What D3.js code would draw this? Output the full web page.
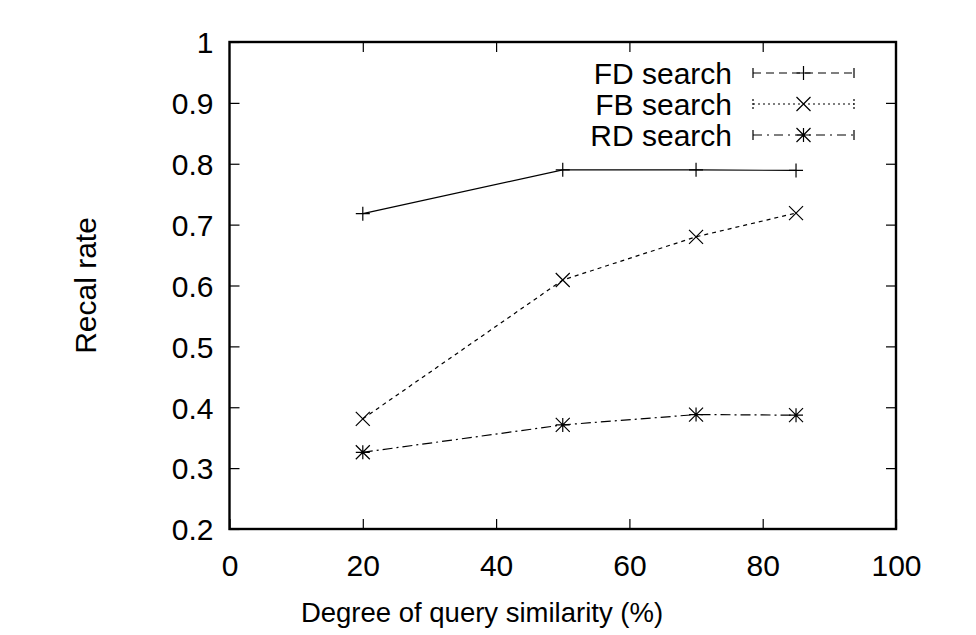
<!DOCTYPE html>
<html>
<head>
<meta charset="utf-8">
<script src="https://cdn.jsdelivr.net/npm/d3@7"></script>
<style>
  html, body { margin: 0; padding: 0; background: #fff; }
  text { font-family: "Liberation Sans", Arial, sans-serif; fill: #000; }
</style>
</head>
<body>
<div id="chart"></div>
<script>
// data
var similarity = [20, 50, 70, 85];
var fdSearch = [0.718, 0.79, 0.79, 0.789];
var fbSearch = [0.381, 0.609, 0.68, 0.719];
var rdSearch = [0.326, 0.371, 0.388, 0.387];
var seriesNames = ["FD search", "FB search", "RD search"];
var xTicks = [0, 20, 40, 60, 80, 100];
var yTicks = [0.2, 0.3, 0.4, 0.5, 0.6, 0.7, 0.8, 0.9, 1];

var width = 976, height = 635;
var margin = { top: 42, right: 80, bottom: 106, left: 229.5 };
var fontSize = 30;
var tickLen = 10;

var svg = d3.select("#chart").append("svg")
    .attr("width", width)
    .attr("height", height);

var x = d3.scaleLinear().domain([0, 100]).range([margin.left, width - margin.right]);
var y = d3.scaleLinear().domain([0.2, 1]).range([height - margin.bottom, margin.top]);

var g = svg.append("g");

// ticks on all four sides, pointing inward (gnuplot mirror)
var yAxisL = d3.axisLeft(y).tickValues(yTicks).tickSizeInner(-tickLen).tickSizeOuter(0)
    .tickPadding(16).tickFormat(function(d) { return d === 1 ? "1" : d3.format(".1f")(d); });
var yAxisR = d3.axisRight(y).tickValues(yTicks.slice(1, -1)).tickSizeInner(-tickLen).tickSizeOuter(0).tickFormat("");
var xAxisB = d3.axisBottom(x).tickValues(xTicks).tickSizeInner(-tickLen).tickSizeOuter(0)
    .tickPadding(26).tickFormat(d3.format("d"));
var xAxisT = d3.axisTop(x).tickValues(xTicks.slice(1, -1)).tickSizeInner(-tickLen).tickSizeOuter(0).tickFormat("");

function styleAxis(sel) {
    sel.select(".domain").remove();
    sel.selectAll("line").attr("stroke", "#000").attr("stroke-width", 1.2);
    sel.selectAll("text").style("font-size", fontSize + "px")
        .style("font-family", "'Liberation Sans', Arial, sans-serif").attr("fill", "#000");
}

g.append("g").attr("transform", "translate(" + margin.left + ",0)").call(yAxisL).call(styleAxis)
    .selectAll("text").attr("dy", "0.36em");
g.append("g").attr("transform", "translate(" + (width - margin.right) + ",0)").call(yAxisR).call(styleAxis);
g.append("g").attr("transform", "translate(0," + (height - margin.bottom) + ")").call(xAxisB).call(styleAxis)
    .selectAll("text").attr("dy", "0.71em");
g.append("g").attr("transform", "translate(0," + margin.top + ")").call(xAxisT).call(styleAxis);

// frame
g.append("rect")
    .attr("x", x(0)).attr("y", y(1))
    .attr("width", x(100) - x(0)).attr("height", y(0.2) - y(1))
    .attr("fill", "none").attr("stroke", "#000").attr("stroke-width", 2.4);

// axis titles (x title is centred on the canvas, as gnuplot does)
svg.append("text")
    .attr("x", 482).attr("y", 622)
    .attr("text-anchor", "middle").style("font-size", "27.5px")
    .text("Degree of query similarity (%)");
svg.append("text")
    .attr("transform", "translate(96," + ((y(0.2) + y(1)) / 2) + ") rotate(-90)")
    .attr("text-anchor", "middle").style("font-size", "30px")
    .text("Recal rate");

// markers
var ms = 7;
function plusPath(cx, cy) {
    return "M" + (cx - ms) + "," + cy + "H" + (cx + ms) + "M" + cx + "," + (cy - ms) + "V" + (cy + ms);
}
function crossPath(cx, cy) {
    return "M" + (cx - ms) + "," + (cy - ms) + "L" + (cx + ms) + "," + (cy + ms) +
        "M" + (cx - ms) + "," + (cy + ms) + "L" + (cx + ms) + "," + (cy - ms);
}
function starPath(cx, cy) { return plusPath(cx, cy) + crossPath(cx, cy); }

var series = [
    { name: seriesNames[0], values: fdSearch, plotDash: null, keyDash: "8,5", marker: plusPath },
    { name: seriesNames[1], values: fbSearch, plotDash: "4,4", keyDash: "2,3", marker: crossPath },
    { name: seriesNames[2], values: rdSearch, plotDash: "10,4,2,4", keyDash: "9,5,2,5", marker: starPath }
];

var line = d3.line().x(function(d) { return x(d[0]); }).y(function(d) { return y(d[1]); });

series.forEach(function(s) {
    var pts = similarity.map(function(v, i) { return [v, s.values[i]]; });
    g.append("path")
        .attr("d", line(pts))
        .attr("fill", "none").attr("stroke", "#000").attr("stroke-width", 1.2)
        .attr("stroke-dasharray", s.plotDash);
    g.append("path")
        .attr("d", pts.map(function(p) { return s.marker(x(p[0]), y(p[1])); }).join(""))
        .attr("fill", "none").attr("stroke", "#000").attr("stroke-width", 1.2);
});

// legend with white box behind
var key = svg.append("g");
key.append("rect")
    .attr("x", 575).attr("y", 58).attr("width", 287).attr("height", 98)
    .attr("fill", "#fff");
var keyX0 = 753, keyX1 = 854, keyTextX = 732;
series.forEach(function(s, i) {
    var cy = 73 + i * 31;
    key.append("text")
        .attr("x", keyTextX).attr("y", cy).attr("dy", "0.36em")
        .attr("text-anchor", "end").style("font-size", fontSize + "px")
        .text(s.name);
    key.append("line")
        .attr("x1", keyX0).attr("x2", keyX1).attr("y1", cy).attr("y2", cy)
        .attr("stroke", "#000").attr("stroke-width", 1.2).attr("stroke-dasharray", s.keyDash);
    key.append("path")
        .attr("d", "M" + keyX0 + "," + (cy - 5) + "V" + (cy + 5) + "M" + keyX1 + "," + (cy - 5) + "V" + (cy + 5))
        .attr("stroke", "#000").attr("stroke-width", 1.2).attr("stroke-dasharray", i === 1 ? "2,2" : null);
    key.append("path")
        .attr("d", s.marker((keyX0 + keyX1) / 2, cy))
        .attr("fill", "none").attr("stroke", "#000").attr("stroke-width", 1.2);
});
</script>
</body>
</html>
